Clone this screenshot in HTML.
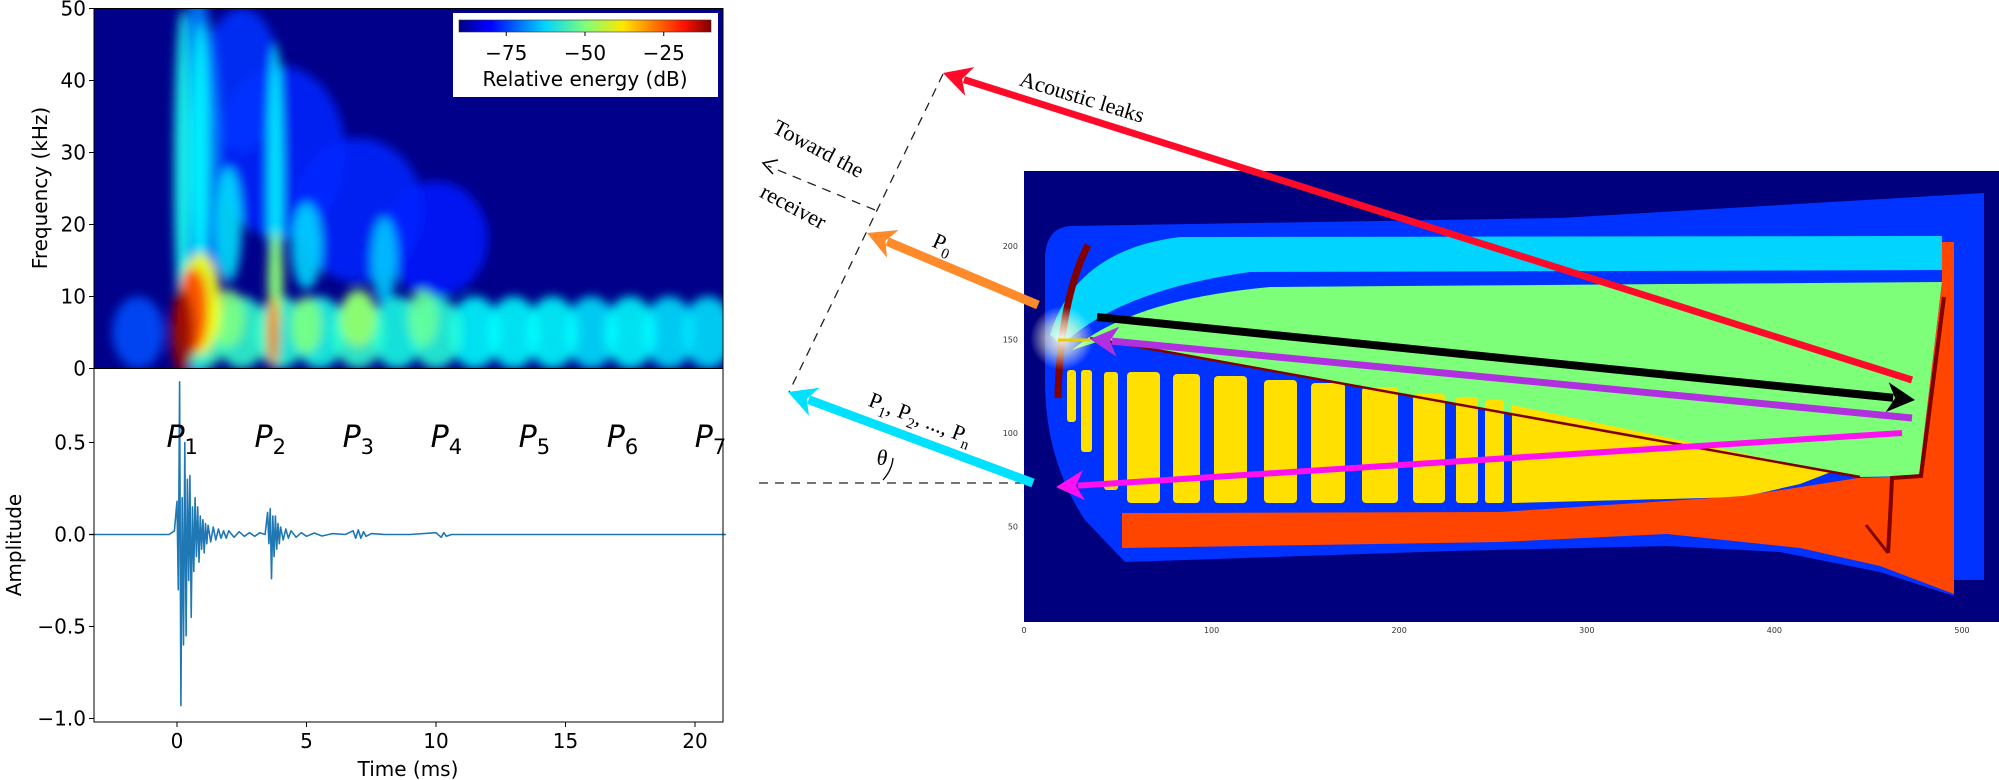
<!DOCTYPE html>
<html><head><meta charset="utf-8"><style>
html,body{margin:0;padding:0;background:#fff;width:1999px;height:780px;overflow:hidden}
svg{position:absolute;left:0;top:0}
</style></head><body>
<svg id="fig" width="1999" height="780" viewBox="0 0 1999 780" xmlns="http://www.w3.org/2000/svg" font-family="'DejaVu Sans','Liberation Sans',sans-serif">
<defs>
<filter id="blur" x="-50%" y="-50%" width="200%" height="200%"><feGaussianBlur stdDeviation="5"/></filter>
<clipPath id="specClip"><rect x="94" y="8.5" width="629" height="360"/></clipPath>
<linearGradient id="jetGrad" x1="0" x2="1" y1="0" y2="0">
<stop offset="0" stop-color="#00007f"/><stop offset="0.11" stop-color="#0000ff"/><stop offset="0.125" stop-color="#0000ff"/><stop offset="0.34" stop-color="#00d4ff"/><stop offset="0.5" stop-color="#7dff7a"/><stop offset="0.65" stop-color="#ffe600"/><stop offset="0.89" stop-color="#ff1300"/><stop offset="1" stop-color="#7f0000"/>
</linearGradient>
<radialGradient id="glow"><stop offset="0" stop-color="#fff" stop-opacity="0.95"/><stop offset="0.5" stop-color="#ffffcc" stop-opacity="0.6"/><stop offset="1" stop-color="#fff" stop-opacity="0"/></radialGradient>
</defs>
<g id="spec" clip-path="url(#specClip)"></g>
<rect x="94" y="8.5" width="629" height="360" fill="none" stroke="#000" stroke-width="1"/>
<g>
<rect x="453" y="13" width="265" height="84" fill="#fff"/>
<rect x="459" y="20" width="252" height="12" fill="url(#jetGrad)" stroke="#333" stroke-width="0.6"/>
<g id="cbTicks"></g>
<text x="585" y="86" font-size="20" text-anchor="middle">Relative energy (dB)</text>
</g>
<g id="specAxis"></g>
<text transform="translate(47,188) rotate(-90)" font-size="20" text-anchor="middle">Frequency (kHz)</text>

<g id="wave"></g>
<rect x="94" y="368.5" width="629" height="353.5" fill="none" stroke="#000" stroke-width="1"/>
<g id="waveAxis"></g>
<text transform="translate(21,545) rotate(-90)" font-size="20" text-anchor="middle">Amplitude</text>
<text x="408" y="776" font-size="20" text-anchor="middle">Time (ms)</text>
<g id="plabels"></g>

<!-- right panel -->
<g>
<rect x="1024" y="171" width="975" height="451" fill="#00007f"/>
<path d="M1070,226 L1560,218 L1984,193 L1984,580 L1954,580 L1954,596 L1880,572 L1780,552 L1667,546 L1450,551 L1125,562 L1085,520 Q1045,460 1045,380 L1045,260 Q1045,228 1070,226 Z" fill="#0033ff"/>
<path d="M1050,335 Q1075,250 1180,237 L1942,236 L1942,270 L1250,272 Q1120,290 1062,345 Z" fill="#00d4ff"/>
<path d="M1072,350 Q1130,300 1270,287 L1942,282 L1919,476 L1860,477 L1100,341 Z" fill="#7dff7a"/>
<g fill="#ffe000">
<rect x="1067" y="370" width="9" height="52" rx="3"/><rect x="1081" y="370" width="11" height="82" rx="3"/><rect x="1104" y="372" width="14" height="118" rx="3"/><rect x="1127" y="372" width="33" height="131" rx="4"/><rect x="1173" y="374" width="27" height="129" rx="4"/><rect x="1214" y="376" width="33" height="127" rx="4"/><rect x="1264" y="380" width="33" height="123" rx="4"/><rect x="1311" y="383" width="34" height="120" rx="4"/><rect x="1362" y="387" width="36" height="116" rx="4"/><rect x="1413" y="394" width="32" height="109" rx="4"/><rect x="1456" y="397" width="22" height="106" rx="3"/><rect x="1485" y="400" width="19" height="103" rx="3"/>
<path d="M1512,405 L1831,472 L1800,484 L1743,497 L1512,503 Z"/>
</g>
<path d="M1122,513 L1500,512 L1743,496 L1858,478 L1919,476 L1942,282 L1942,242 L1954,242 L1954,594 L1880,566 L1800,548 L1667,534 L1500,542 L1122,548 Z" fill="#ff4500"/>
<g fill="none" stroke="#800000">
<path d="M1088,245 Q1060,300 1058,398" stroke-width="7"/>
<path d="M1090,338 L1860,477" stroke-width="2.5"/>
<path d="M1944,297 L1921,476 L1892,478 Q1890,520 1888,553" stroke-width="4"/>
<path d="M1866,525 L1888,553" stroke-width="3"/>
</g>
<circle cx="1062" cy="338" r="32" fill="url(#glow)"/>
<path d="M1058,340 L1090,340" stroke="#e0d000" stroke-width="3"/>
<g id="panelTicks" font-size="8" fill="#333"></g>
</g>

<!-- annotations -->
<g fill="none" stroke="#222" stroke-width="1.3" stroke-dasharray="9,7">
<path d="M943,74 L789,392"/>
<path d="M759,483 L1033,483"/>
<path d="M875,210 L768,166"/>
</g>
<path d="M778,160 L763,163 L773,174" fill="none" stroke="#000" stroke-width="1.5"/>
<path d="M883,480 Q892,470 893,458" fill="none" stroke="#000" stroke-width="1.3"/>
<g id="arrows"></g>
<g font-family="'Liberation Serif',serif" fill="#000">
<text transform="translate(1080,104) rotate(17)" font-size="22" text-anchor="middle">Acoustic leaks</text>
<text transform="translate(815,155) rotate(28)" font-size="22" text-anchor="middle">Toward the</text>
<text transform="translate(790,213) rotate(28)" font-size="22" text-anchor="middle">receiver</text>
<text transform="translate(940,250) rotate(24)" font-size="22" text-anchor="middle">P<tspan font-size="15" dy="6">0</tspan></text>
<text transform="translate(918,425) rotate(21)" font-size="22" text-anchor="middle">P<tspan font-size="15" dy="6">1</tspan><tspan dy="-6">, P</tspan><tspan font-size="15" dy="6">2</tspan><tspan dy="-6">, ..., P</tspan><tspan font-size="15" dy="6">n</tspan></text>
<text x="882" y="465" font-size="22" font-style="italic" text-anchor="middle">θ</text>
</g>
</svg>
<script>
// ---- spectrogram data (time ms, freq kHz, level dB, spread ms, spread kHz) ----
const blobTime = [0.8,4,7,10,2.5,-1.5,0.2,0.9,3.8,2,5,8,1,2.5,4,5.5,7,8.5,10,11.5,13,14.5,16,17.5,19,20.5,2,5,7,9.5,0.9,0.6,0.2,3.7,3.8];
const blobFreq = [25,30,22,18,40,5,28,30,25,20,17,15,5,5,5,5,5,5,5,5,5,5,5,5,5,5,7,6,7,7,9,8,5,5,12];
const blobDb   = [-70,-77,-77,-78,-76,-74,-58,-60,-60,-62,-63,-64,-55,-56,-57,-58,-56,-58,-57,-60,-60,-60,-62,-60,-62,-62,-50,-50,-48,-52,-40,-25,-12,-30,-48];
const blobDt   = [0.9,2.5,2.5,2,1.5,1,0.3,0.35,0.3,0.5,0.6,0.5,1,1,1,1,1,1,1,1,1,1,1,1,1,1,0.6,0.6,0.7,0.6,0.8,0.6,0.45,0.25,0.3];
const blobDf   = [27,12,10,8,10,5,22,18,20,8,6,6,5,5,5,5,5,5,5,5,5,5,5,5,5,5,4,4,4,4,7,6,6,5,7];
const cbTickVals = [-75,-50,-25];
const freqTicks = [0,10,20,30,40,50];
// ---- waveform data ----
const waveT = [-3.4,-0.6,-0.3,-0.1,0.0,0.05,0.1,0.15,0.2,0.25,0.3,0.35,0.4,0.45,0.5,0.55,0.6,0.65,0.7,0.75,0.8,0.85,0.9,0.95,1.0,1.05,1.1,1.15,1.2,1.3,1.4,1.5,1.6,1.7,1.8,1.9,2.0,2.2,2.4,2.6,2.8,3.0,3.2,3.4,3.5,3.55,3.6,3.65,3.7,3.75,3.8,3.85,3.9,3.95,4.0,4.1,4.2,4.3,4.4,4.6,4.8,5.0,5.3,5.6,6.0,6.5,6.8,6.9,7.0,7.1,7.2,7.3,7.5,8,9,10,10.2,10.3,10.4,10.6,11,13,15,17,19,21.2];
const waveA = [0,0,0,0.02,0.18,-0.3,0.83,-0.93,0.2,-0.6,0.5,-0.55,0.3,-0.25,0.32,-0.45,0.15,-0.2,0.2,-0.12,0.15,-0.15,0.1,-0.08,0.08,-0.1,0.06,-0.05,0.05,-0.04,0.04,-0.03,0.03,-0.02,0.02,-0.02,0.02,-0.015,0.015,-0.01,0.01,-0.01,0.01,0,0.12,-0.05,0.14,-0.24,0.1,-0.12,0.1,-0.08,0.06,-0.05,0.04,-0.03,0.03,-0.02,0.02,-0.015,0.01,-0.01,0.008,-0.008,0.005,0,0.02,-0.02,0.025,-0.02,0.015,-0.01,0.005,0,0,0.01,-0.015,0.01,-0.01,0,0,0,0,0,0,0];
const timeTicks = [0,5,10,15,20];
const ampTicks = [-1.0,-0.5,0.0,0.5];
const pulseTimes = [0.2,3.6,7.0,10.4,13.8,17.2,20.6];
const pulseNames = ['1','2','3','4','5','6','7'];
// ---- right panel ticks ----
const panelXTicks = [0,100,200,300,400,500];
const panelYTicks = [50,100,150,200];

const NS='http://www.w3.org/2000/svg';
function mk(tag,attrs,parent){const e=document.createElementNS(NS,tag);for(const k in attrs)e.setAttribute(k,attrs[k]);if(parent)parent.appendChild(e);return e;}
const xT = t => 177 + 25.9*t;
const yF = f => 368.5 - 7.2*f;
const yA = a => 534.5 - 184*a;
const xCb = d => 459 + (d+90)/80*252;
const xP = u => 1024 + u*1.876;
const yP = v => 620 - v*1.87;
function jet(v){
  const c=x=>Math.max(0,Math.min(1,x));
  const r=c(1.5-Math.abs(4*v-3)), g=c(1.5-Math.abs(4*v-2)), b=c(1.5-Math.abs(4*v-1));
  return `rgb(${Math.round(r*255)},${Math.round(g*255)},${Math.round(b*255)})`;
}
const spec=document.getElementById('spec');
const bg=mk('rect',{x:94,y:8.5,width:629,height:360,fill:'#00008a'},spec);


const gb=mk('g',{filter:'url(#blur)'},spec);
const order=blobDb.map((d,i)=>i).sort((a,b)=>blobDb[a]-blobDb[b]);
order.forEach(i=>{
  const e=mk('ellipse',{cx:xT(blobTime[i]),cy:yF(blobFreq[i]),rx:blobDt[i]*25.9,ry:blobDf[i]*7.2,fill:jet((blobDb[i]+90)/80),opacity:0.88},gb);
  
  
});
const cbt=document.getElementById('cbTicks');
cbTickVals.forEach(v=>{
  const l=mk('line',{x1:xCb(v),x2:xCb(v),y1:32,y2:36,stroke:'#000'},cbt);
  
  
  const t=mk('text',{x:xCb(v),y:60,'font-size':20,'text-anchor':'middle'},cbt);
  t.textContent='\u2212'+Math.abs(v);
  
  
});
const sa=document.getElementById('specAxis');
freqTicks.forEach(f=>{
  mk('line',{x1:89,x2:94,y1:yF(f),y2:yF(f),stroke:'#000'},sa);
  const t=mk('text',{x:86,y:yF(f)+7,'font-size':20,'text-anchor':'end'},sa);
  t.textContent=f;
  
  
});
const wv=document.getElementById('wave');
let d='';waveT.forEach((t,i)=>{d+=(i?'L':'M')+xT(t).toFixed(1)+','+yA(waveA[i]).toFixed(1);});
const wp=mk('path',{d:d,fill:'none',stroke:'#1f77b4','stroke-width':1.6,'stroke-linejoin':'round'},wv);


const wa=document.getElementById('waveAxis');
ampTicks.forEach(a=>{
  mk('line',{x1:89,x2:94,y1:yA(a),y2:yA(a),stroke:'#000'},wa);
  const t=mk('text',{x:86,y:yA(a)+7,'font-size':20,'text-anchor':'end'},wa);
  t.textContent=(a<0?'\u2212':'')+Math.abs(a).toFixed(1);
  
  
});
timeTicks.forEach(v=>{
  mk('line',{x1:xT(v),x2:xT(v),y1:722,y2:727,stroke:'#000'},wa);
  const t=mk('text',{x:xT(v),y:748,'font-size':20,'text-anchor':'middle'},wa);
  t.textContent=v;
  
  
});
const pl=document.getElementById('plabels');
pulseTimes.forEach((t,i)=>{
  const tx=mk('text',{x:xT(t),y:447,'font-size':30,'font-style':'italic','text-anchor':'middle'},pl);
  tx.innerHTML='P<tspan font-size="21" font-style="normal" dy="7">'+pulseNames[i]+'</tspan>';
  
  
});
const pt=document.getElementById('panelTicks');
panelXTicks.forEach(u=>{
  const t=mk('text',{x:xP(u),y:633,'text-anchor':'middle'},pt);
  t.textContent=u;
  
  
});
panelYTicks.forEach(v=>{
  const t=mk('text',{x:1018,y:yP(v)+3,'text-anchor':'end'},pt);
  t.textContent=v;
  
  
});
const ag=document.getElementById('arrows');
function arrow(x1,y1,x2,y2,col,w,name){
  const g=mk('g',{},ag);
  
  
  const dx=x2-x1,dy=y2-y1,L=Math.hypot(dx,dy),ux=dx/L,uy=dy/L,hl=28,hw=15;
  const bx=x2-ux*hl,by=y2-uy*hl;
  mk('line',{x1:x1,y1:y1,x2:bx+ux*6,y2:by+uy*6,stroke:col,'stroke-width':w},g);
  mk('path',{d:`M${x2},${y2} L${bx-uy*hw},${by+ux*hw} L${bx+ux*8},${by+uy*8} L${bx+uy*hw},${by-ux*hw} Z`,fill:col},g);
}
arrow(1912,380,943,73,'#ff0a28',7,'acoustic-leaks-arrow');
arrow(1097,317,1915,400,'#000',8,'internal-path-arrow');
arrow(1912,418,1090,339,'#b030e0',7,'return-path-arrow');
arrow(1902,433,1056,487,'#ff10f0',6,'pn-return-arrow');
arrow(1038,305,867,233,'#ff8a2a',9,'p0-arrow');
arrow(1033,483,788,392,'#00e0ff',9,'pn-arrow');
</script>
</body></html>
